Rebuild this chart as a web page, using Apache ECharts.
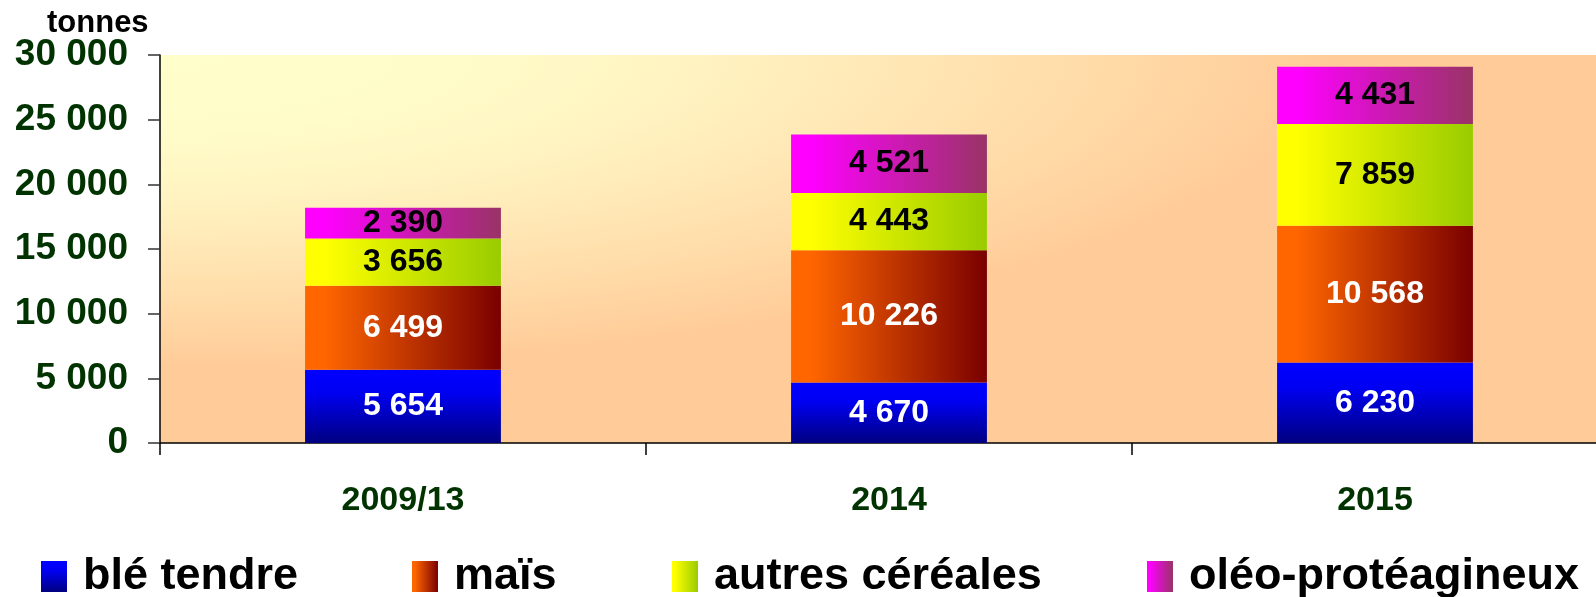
<!DOCTYPE html>
<html>
<head>
<meta charset="utf-8">
<script src="https://cdn.jsdelivr.net/npm/echarts@6/dist/echarts.min.js"></script>
<style>
  html, body { margin: 0; padding: 0; background: #fff; }
  #chart { width: 1596px; height: 597px; }
</style>
</head>
<body>
<div id="chart"></div>
<script>
const categories = ["2009/13", "2014", "2015"];
const bleTendre = [5654, 4670, 6230];
const mais = [6499, 10226, 10568];
const autresCereales = [3656, 4443, 7859];
const oleoProteagineux = [2390, 4521, 4431];
const seriesNames = ["blé tendre", "maïs", "autres céréales", "oléo-protéagineux"];
const yMin = 0, yMax = 30000, yStep = 5000;

const FONT = "'Liberation Sans', Arial, sans-serif";
const GREEN = "#003300";

// 30000 -> "30 000"
const fmt = (v) => String(v).replace(/\B(?=(\d{3})+(?!\d))/g, " ");

const hGrad = (from, to) =>
  new echarts.graphic.LinearGradient(0, 0, 1, 0, [
    { offset: 0, color: from },
    { offset: 0.1, color: from },
    { offset: 1, color: to },
  ]);

const fills = [
  new echarts.graphic.LinearGradient(0, 0, 0, 1, [
    { offset: 0, color: "#0000ff" },
    { offset: 0.3, color: "#0000f4" },
    { offset: 1, color: "#000080" },
  ]),
  hGrad("#ff6600", "#7a0000"),
  hGrad("#ffff00", "#99cc00"),
  hGrad("#ff00ff", "#993366"),
];
const labelColors = ["#fff", "#fff", "#000", "#000"];
const values = [bleTendre, mais, autresCereales, oleoProteagineux];
const legendLeft = [41, 412, 672, 1147];

// plot area (runs a little past the right edge, as in the original)
const gridLeft = 160, gridTop = 55, plotW = 1458, plotH = 388;

const chart = echarts.init(document.getElementById("chart"));
chart.setOption({
  animation: false,
  textStyle: { fontFamily: FONT },
  title: {
    text: "tonnes",
    left: 47,
    top: 8,
    padding: 0,
    textStyle: { fontFamily: FONT, fontSize: 31, fontWeight: "bold", color: "#000" },
  },
  // elliptical glow from the top-left corner of the plot
  graphic: [
    {
      type: "rect",
      x: gridLeft,
      y: gridTop,
      scaleX: plotW / plotH,
      z: -10,
      silent: true,
      shape: { x: 0, y: 0, width: plotH, height: plotH },
      style: {
        fill: new echarts.graphic.RadialGradient(0, 0, 1, [
          { offset: 0, color: "#ffffcc" },
          { offset: 0.2, color: "#fffcc9" },
          { offset: 0.37, color: "#fff3c1" },
          { offset: 0.6, color: "#ffdfac" },
          { offset: 0.8, color: "#ffcc99" },
          { offset: 1, color: "#ffcc99" },
        ]),
      },
    },
  ],
  legend: seriesNames.map((name, i) => ({
    data: [name],
    left: legendLeft[i],
    top: 554,
    padding: 0,
    icon: "rect",
    itemWidth: 26,
    itemHeight: 31,
    selectedMode: false,
    textStyle: {
      fontFamily: FONT,
      fontSize: 45,
      fontWeight: "bold",
      color: "#000",
      padding: [0, 0, 0, 11],
    },
  })),
  grid: {
    left: gridLeft,
    top: gridTop,
    width: plotW,
    height: plotH,
    outerBoundsMode: "none",
    containLabel: false,
  },
  xAxis: {
    type: "category",
    data: categories,
    axisLine: { lineStyle: { color: "#000", width: 1.5 } },
    axisTick: { show: true, interval: 0, length: 12, lineStyle: { color: "#000", width: 1.5 } },
    axisLabel: {
      margin: 41,
      fontFamily: FONT,
      fontSize: 34,
      fontWeight: "bold",
      color: GREEN,
    },
  },
  yAxis: {
    type: "value",
    min: yMin,
    max: yMax,
    interval: yStep,
    splitLine: { show: false },
    axisLine: { show: true, lineStyle: { color: "#000", width: 1.5 } },
    axisTick: { show: true, length: 12, lineStyle: { color: "#333", width: 1.5 } },
    axisLabel: {
      margin: 32,
      padding: [6, 0, 0, 0],
      fontFamily: FONT,
      fontSize: 37,
      fontWeight: "bold",
      color: GREEN,
      formatter: fmt,
    },
  },
  series: seriesNames.map((name, i) => ({
    type: "bar",
    name,
    stack: "total",
    barWidth: "40.3%",
    data: values[i],
    itemStyle: { color: fills[i] },
    label: {
      show: true,
      position: "inside",
      fontFamily: FONT,
      fontSize: 32,
      fontWeight: "bold",
      color: labelColors[i],
      formatter: (p) => fmt(p.value),
    },
  })),
});
</script>
</body>
</html>
